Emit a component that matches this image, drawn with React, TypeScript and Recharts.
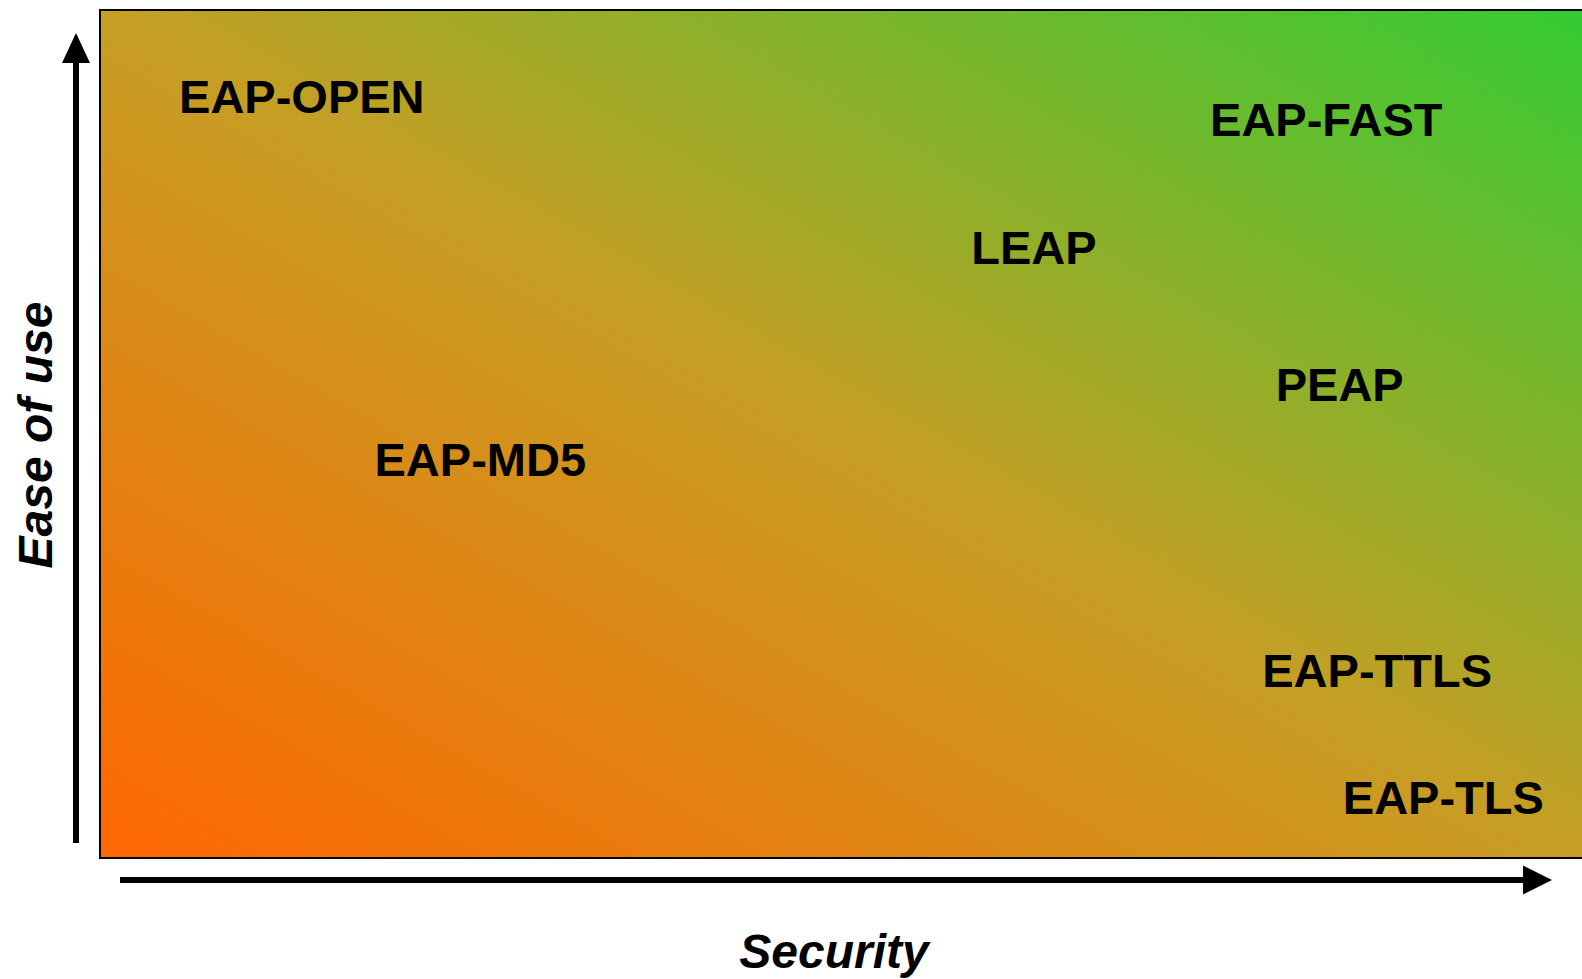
import { ScatterChart, Scatter, XAxis, YAxis, ReferenceArea } from 'recharts'

// EAP methods placed on security (x) vs ease of use (y), 0-100 scale
const methods = ['EAP-OPEN', 'EAP-FAST', 'LEAP', 'PEAP', 'EAP-MD5', 'EAP-TTLS', 'EAP-TLS']
const security = [5.3, 74.4, 58.4, 78.8, 18.4, 77.9, 83.3]
const easeOfUse = [89.9, 87.1, 72.1, 55.9, 47.1, 22.2, 7.2]

const xLabel = 'Security'
const yLabel = 'Ease of use'

const points = methods.map((name, i) => ({ name, x: security[i], y: easeOfUse[i] }))

const FONT = '"Liberation Sans", Arial, sans-serif'

function MethodLabel(props: any) {
  const { cx, cy, payload } = props
  return (
    <text x={cx} y={cy} dy={17} fontFamily={FONT} fontWeight="bold" fontSize={47} fill="#000">
      {payload.name}
    </text>
  )
}

export default function App() {
  return (
    <div style={{ position: 'absolute', left: 0, top: 0, width: 1582, height: 979, overflow: 'hidden', background: '#fff' }}>
      <ScatterChart width={1600} height={979} margin={{ top: 10, right: 8, left: 100, bottom: 121 }}>
        <defs>
          <linearGradient id="bgGrad" x1="0" y1="1" x2="1" y2="0">
            <stop offset="0%" stopColor="#FF6600" />
            <stop offset="50%" stopColor="#C69E24" />
            <stop offset="100%" stopColor="#33CC33" />
          </linearGradient>
        </defs>
        <XAxis type="number" dataKey="x" domain={[0, 100]} hide />
        <YAxis type="number" dataKey="y" domain={[0, 100]} hide />
        <ReferenceArea x1={0} x2={100} y1={0} y2={100} fill="url(#bgGrad)" fillOpacity={1} stroke="#000" strokeWidth={2} />
        <Scatter data={points} shape={MethodLabel} isAnimationActive={false} />

        {/* axis arrows */}
        <g>
          <rect x={73} y={60} width={6} height={783} fill="#000" />
          <polygon points="76,33 62,63 90,63" fill="#000" />
          <rect x={120} y={877} width={1406} height={6} fill="#000" />
          <polygon points="1552,880 1523,865.5 1523,894.5" fill="#000" />
        </g>
        <text x={834} y={968} textAnchor="middle" fontFamily={FONT} fontWeight="bold" fontStyle="italic" fontSize={48} fill="#000">
          {xLabel}
        </text>
        <text
          x={0}
          y={0}
          transform="translate(52,435) rotate(-90)"
          textAnchor="middle"
          fontFamily={FONT}
          fontWeight="bold"
          fontStyle="italic"
          fontSize={48}
          fill="#000"
        >
          {yLabel}
        </text>
      </ScatterChart>
    </div>
  )
}
